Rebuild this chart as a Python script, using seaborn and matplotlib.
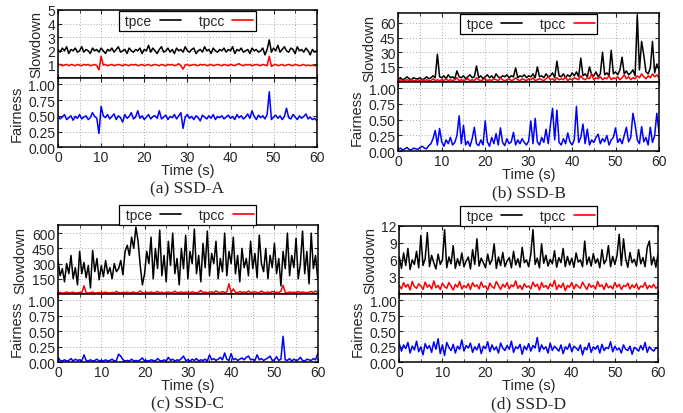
import numpy as np
import pandas as pd
import matplotlib
matplotlib.use("Agg")
import matplotlib.pyplot as plt
import seaborn as sns
from matplotlib.lines import Line2D

sns.set_style("ticks")
plt.rcParams.update({
    'font.family': ['Liberation Sans', 'DejaVu Sans'],
    'font.size': 8,
    'axes.linewidth': 1.1,
})

# sample times (s), one sample every 0.5 s
TIME_S = np.arange(0, 60.5, 0.5)

# ---------------- SSD-A ----------------
A_TPCE = [2.1, 1.9, 2.2, 2.0, 2.3, 1.8, 2.1, 2.0, 2.2, 1.9, 2.0, 2.3, 1.9, 2.1, 2.0, 1.8, 2.2, 2.0, 2.1, 1.9,
          2.2, 2.0, 1.8, 2.1, 2.0, 2.2, 1.9, 2.1, 2.3, 1.9, 2.0, 2.1, 1.8, 2.2, 2.0, 1.9, 2.1, 2.0, 2.2, 1.8,
          2.1, 2.0, 2.4, 1.9, 2.2, 2.0, 1.8, 2.1, 2.3, 1.9, 2.0, 2.2, 1.9, 2.1, 1.8, 2.2, 2.0, 2.1, 1.9, 2.3,
          2.0, 1.9, 2.1, 2.2, 1.8, 2.0, 2.1, 1.9, 2.3, 2.0, 2.1, 1.8, 2.2, 2.0, 1.9, 2.1, 2.0, 2.2, 1.9, 2.1,
          2.0, 2.3, 1.8, 2.1, 2.0, 2.2, 1.9, 2.0, 2.1, 1.8, 2.2, 2.0, 2.1, 1.9, 2.0, 2.2, 1.7, 2.1, 2.8, 1.9,
          2.2, 2.0, 2.4, 1.9, 2.1, 2.3, 2.0, 1.9, 2.2, 2.1, 1.8, 2.3, 2.0, 2.1, 1.9, 2.2, 2.0, 1.7, 2.1, 1.9,
          2.0]
A_TPCC = [0.95, 1.0, 0.9, 0.95, 1.0, 0.9, 1.0, 0.95, 0.9, 1.0, 0.95, 0.9, 1.0, 0.95, 1.0, 0.9, 0.95, 1.0, 0.9, 0.6,
          1.6, 0.95, 1.0, 0.9, 0.95, 1.0, 0.9, 0.95, 1.0, 0.95, 0.9, 1.0, 0.95, 0.9, 1.0, 0.95, 1.0, 0.9, 0.95, 1.0,
          0.9, 0.95, 1.0, 0.9, 0.95, 1.0, 0.95, 0.9, 1.0, 0.95, 0.9, 1.0, 0.95, 1.0, 0.9, 0.95, 1.05, 0.9, 0.65, 0.95,
          1.0, 0.9, 0.95, 1.0, 0.95, 0.9, 1.0, 0.95, 1.0, 0.9, 0.95, 1.0, 0.9, 0.95, 1.0, 0.95, 0.9, 1.0, 0.95, 0.9,
          1.0, 0.95, 0.9, 1.0, 1.05, 0.95, 0.9, 1.0, 0.95, 1.0, 0.9, 0.95, 1.0, 0.95, 0.9, 1.0, 0.95, 0.9, 1.6, 0.85,
          0.95, 1.0, 0.9, 0.95, 1.0, 0.9, 0.95, 1.0, 0.95, 0.9, 1.0, 0.95, 0.9, 0.95, 1.0, 0.9, 0.95, 0.9, 0.95, 0.9,
          0.9]
A_FAIR = [0.50, 0.45, 0.48, 0.52, 0.44, 0.47, 0.50, 0.43, 0.49, 0.46, 0.52, 0.45, 0.48, 0.50, 0.44, 0.47, 0.55, 0.49, 0.46, 0.22,
          0.65, 0.50, 0.47, 0.52, 0.45, 0.49, 0.53, 0.44, 0.50, 0.47, 0.40, 0.52, 0.46, 0.49, 0.55, 0.45, 0.48, 0.58, 0.46, 0.50,
          0.44, 0.48, 0.52, 0.45, 0.49, 0.50, 0.46, 0.58, 0.45, 0.48, 0.51, 0.44, 0.49, 0.47, 0.52, 0.45, 0.50, 0.55, 0.30, 0.48,
          0.52, 0.46, 0.49, 0.44, 0.50, 0.47, 0.42, 0.51, 0.48, 0.45, 0.50, 0.46, 0.52, 0.44, 0.49, 0.47, 0.50, 0.45, 0.48, 0.51,
          0.46, 0.49, 0.44, 0.52, 0.47, 0.50, 0.45, 0.48, 0.53, 0.46, 0.58, 0.49, 0.44, 0.51, 0.47, 0.50, 0.45, 0.52, 0.88, 0.44,
          0.48, 0.51, 0.46, 0.50, 0.44, 0.49, 0.62, 0.47, 0.45, 0.52, 0.48, 0.44, 0.50, 0.46, 0.49, 0.53, 0.45, 0.48, 0.44, 0.46,
          0.42]

# ---------------- SSD-B ----------------
B_TPCE = [3, 4, 2, 3, 5, 3, 2, 4, 3, 3, 4, 2, 3, 5, 3, 4, 6, 4, 28, 5,
          4, 6, 3, 7, 4, 5, 3, 11, 5, 4, 6, 3, 5, 7, 4, 5, 16, 4, 6, 3,
          5, 7, 4, 6, 3, 8, 5, 4, 6, 5, 7, 4, 6, 5, 14, 4, 6, 5, 7, 4,
          6, 5, 8, 4, 15, 5, 6, 4, 8, 5, 6, 9, 4, 21, 6, 5, 8, 4, 7, 5,
          9, 6, 10, 5, 24, 6, 8, 5, 15, 7, 6, 10, 5, 8, 30, 7, 9, 6, 32, 8,
          10, 7, 12, 25, 8, 11, 7, 9, 12, 6, 68, 12, 41, 27, 10, 8, 14, 41, 9, 18,
          12]
B_TPCC = [1, 2, 1, 1, 2, 1, 2, 1, 1, 2, 1, 2, 1, 2, 1, 1, 3, 1, 2, 1,
          2, 1, 3, 1, 2, 1, 2, 4, 1, 2, 1, 2, 3, 1, 2, 1, 4, 2, 1, 2,
          3, 1, 2, 1, 3, 2, 1, 4, 2, 1, 2, 3, 1, 2, 4, 2, 1, 3, 2, 1,
          3, 2, 4, 1, 2, 3, 2, 1, 3, 5, 2, 3, 1, 4, 2, 3, 2, 5, 1, 3,
          2, 4, 3, 2, 6, 3, 2, 4, 3, 8, 2, 4, 3, 5, 2, 4, 3, 6, 2, 4,
          3, 5, 2, 4, 7, 3, 5, 2, 4, 3, 6, 4, 8, 5, 3, 6, 4, 8, 5, 7,
          4]
B_FAIR = [0.03, 0.05, 0.02, 0.04, 0.06, 0.03, 0.02, 0.05, 0.04, 0.03, 0.06, 0.08, 0.05, 0.04, 0.09, 0.12, 0.20, 0.33, 0.10, 0.36,
          0.15, 0.08, 0.18, 0.12, 0.22, 0.10, 0.14, 0.25, 0.56, 0.12, 0.41, 0.10, 0.16, 0.08, 0.20, 0.38, 0.12, 0.09, 0.18, 0.10,
          0.48, 0.15, 0.08, 0.22, 0.12, 0.28, 0.10, 0.37, 0.14, 0.09, 0.20, 0.12, 0.15, 0.30, 0.10, 0.18, 0.12, 0.20, 0.14, 0.10,
          0.16, 0.48, 0.12, 0.52, 0.15, 0.10, 0.22, 0.14, 0.35, 0.12, 0.41, 0.68, 0.18, 0.65, 0.14, 0.10, 0.20, 0.12, 0.29, 0.15,
          0.10, 0.18, 0.71, 0.14, 0.22, 0.43, 0.12, 0.35, 0.10, 0.18, 0.14, 0.22, 0.27, 0.12, 0.20, 0.15, 0.25, 0.10, 0.18, 0.22,
          0.37, 0.14, 0.20, 0.12, 0.25, 0.38, 0.15, 0.22, 0.60, 0.42, 0.18, 0.12, 0.39, 0.15, 0.22, 0.10, 0.38, 0.14, 0.25, 0.60,
          0.30]

# ---------------- SSD-C ----------------
C_TPCE = [330, 180, 250, 120, 300, 200, 380, 150, 260, 90, 420, 200, 310, 160, 280, 60, 430, 220, 350, 140,
          280, 170, 330, 200, 260, 150, 300, 220, 250, 330, 190, 420, 480, 380, 560, 450, 660, 520, 280, 90,
          200, 420, 300, 560, 150, 450, 250, 630, 180, 380, 120, 520, 280, 600, 200, 350, 90, 450, 250, 580,
          150, 420, 300, 640, 200, 380, 120, 500, 260, 620, 180, 400, 300, 520, 150, 350, 220, 600, 180, 420,
          300, 560, 200, 380, 120, 450, 260, 350, 180, 520, 250, 400, 160, 580, 300, 220, 450, 150, 380, 260,
          500, 200, 350, 80, 420, 250, 600, 180, 380, 260, 550, 150, 300, 620, 200, 420, 100, 600, 250, 380,
          150]
C_TPCC = [10, 15, 8, 12, 20, 10, 14, 18, 9, 12, 16, 11, 80, 15, 10, 13, 20, 9, 12, 15,
          10, 14, 18, 12, 9, 16, 11, 25, 13, 10, 15, 12, 18, 10, 14, 20, 11, 15, 30, 12,
          10, 16, 13, 20, 11, 15, 25, 12, 18, 10, 14, 20, 12, 15, 28, 11, 16, 20, 13, 18,
          15, 12, 22, 16, 10, 18, 35, 14, 20, 12, 16, 22, 14, 30, 18, 12, 25, 15, 20, 100,
          14, 50, 18, 12, 25, 16, 20, 14, 30, 12, 18, 22, 15, 12, 30, 16, 14, 20, 12, 25,
          15, 18, 14, 28, 85, 16, 12, 20, 15, 18, 12, 25, 14, 20, 16, 12, 18, 25, 14, 30,
          15]
C_FAIR = [0.08, 0.03, 0.02, 0.04, 0.02, 0.03, 0.06, 0.02, 0.05, 0.03, 0.04, 0.02, 0.12, 0.03, 0.02, 0.04, 0.02, 0.03, 0.05, 0.02,
          0.03, 0.02, 0.04, 0.02, 0.03, 0.05, 0.02, 0.03, 0.13, 0.10, 0.04, 0.02, 0.03, 0.02, 0.05, 0.02, 0.03, 0.02, 0.04, 0.07,
          0.02, 0.03, 0.02, 0.04, 0.03, 0.02, 0.06, 0.03, 0.02, 0.04, 0.02, 0.08, 0.03, 0.05, 0.02, 0.04, 0.03, 0.06, 0.10, 0.03,
          0.04, 0.02, 0.05, 0.03, 0.06, 0.02, 0.04, 0.03, 0.05, 0.02, 0.12, 0.04, 0.06, 0.03, 0.05, 0.08, 0.04, 0.15, 0.05, 0.03,
          0.14, 0.04, 0.06, 0.03, 0.05, 0.07, 0.04, 0.08, 0.10, 0.04, 0.05, 0.03, 0.12, 0.04, 0.06, 0.03, 0.05, 0.07, 0.10, 0.03,
          0.04, 0.09, 0.03, 0.05, 0.42, 0.04, 0.03, 0.06, 0.02, 0.05, 0.03, 0.04, 0.08, 0.03, 0.02, 0.05, 0.04, 0.03, 0.06, 0.04,
          0.14]

# ---------------- SSD-D ----------------
D_TPCE = [6.5, 4.5, 7.2, 5.0, 8.0, 4.3, 6.0, 5.2, 7.5, 4.6, 10.3, 5.0, 6.2, 10.8, 4.8, 6.8, 5.5, 4.4, 7.0, 5.2,
          6.0, 11.3, 4.6, 6.5, 5.3, 8.5, 4.5, 6.2, 5.0, 7.2, 4.8, 5.8, 6.5, 4.4, 7.8, 5.2, 9.7, 4.9, 6.3, 5.5,
          4.6, 7.0, 5.2, 6.0, 8.8, 4.5, 6.5, 5.0, 7.3, 4.8, 5.8, 6.4, 4.6, 7.5, 5.1, 6.2, 4.7, 8.2, 5.5, 6.0,
          4.8, 7.0, 11.3, 5.2, 6.3, 4.6, 8.8, 5.4, 6.8, 4.9, 6.1, 5.3, 7.6, 4.7, 6.4, 5.5, 8.0, 4.8, 6.6, 5.1,
          6.3, 4.7, 7.2, 5.6, 6.0, 4.8, 9.3, 5.2, 6.5, 4.9, 7.1, 5.4, 6.2, 4.6, 7.8, 5.3, 6.0, 8.5, 4.8, 6.6,
          5.2, 6.8, 10.5, 5.0, 9.7, 6.2, 4.7, 7.3, 5.5, 6.1, 4.9, 7.8, 5.3, 6.4, 4.8, 8.2, 9.3, 5.1, 6.5, 4.7,
          7.0]
D_TPCC = [1.5, 0.9, 2.0, 1.2, 1.7, 0.7, 2.2, 1.3, 1.0, 1.8, 1.4, 0.8, 2.1, 1.2, 1.6, 0.9, 2.3, 1.1, 1.5, 0.8,
          1.9, 1.3, 1.0, 2.0, 1.4, 0.7, 1.7, 1.2, 2.2, 0.9, 1.5, 1.1, 1.8, 0.8, 2.0, 1.3, 1.6, 0.9, 2.1, 1.2,
          1.4, 0.7, 1.9, 1.3, 1.0, 2.2, 1.5, 0.8, 1.7, 1.2, 2.0, 0.9, 1.6, 1.3, 2.3, 1.0, 1.5, 0.8, 1.8, 1.2,
          1.4, 0.9, 2.1, 1.3, 1.7, 0.7, 2.0, 1.2, 1.5, 0.9, 1.8, 1.3, 2.4, 0.8, 1.6, 1.1, 1.9, 0.6, 1.5, 1.2,
          2.0, 0.9, 1.7, 1.3, 1.0, 2.1, 1.4, 0.8, 1.8, 1.2, 1.5, 0.9, 2.2, 1.3, 1.6, 0.8, 1.9, 1.1, 1.4, 0.9,
          2.0, 1.2, 1.7, 0.8, 1.5, 1.3, 1.9, 0.9, 1.6, 1.1, 1.8, 0.8, 1.4, 1.2, 2.0, 0.9, 1.5, 1.1, 1.7, 1.0,
          1.3]
D_FAIR = [0.30, 0.18, 0.28, 0.22, 0.32, 0.15, 0.26, 0.20, 0.34, 0.17, 0.25, 0.12, 0.30, 0.22, 0.27, 0.16, 0.33, 0.21, 0.38, 0.14,
          0.28, 0.11, 0.32, 0.24, 0.19, 0.29, 0.15, 0.26, 0.21, 0.36, 0.18, 0.27, 0.23, 0.31, 0.16, 0.25, 0.20, 0.30, 0.14, 0.26,
          0.22, 0.33, 0.17, 0.28, 0.20, 0.25, 0.15, 0.31, 0.23, 0.19, 0.27, 0.21, 0.34, 0.16, 0.25, 0.22, 0.29, 0.13, 0.26, 0.20,
          0.30, 0.18, 0.27, 0.23, 0.40, 0.17, 0.28, 0.21, 0.25, 0.15, 0.31, 0.19, 0.26, 0.22, 0.18, 0.28, 0.14, 0.25, 0.21, 0.30,
          0.17, 0.26, 0.23, 0.19, 0.28, 0.12, 0.24, 0.20, 0.31, 0.16, 0.25, 0.21, 0.27, 0.15, 0.29, 0.19, 0.24, 0.22, 0.33, 0.17,
          0.26, 0.20, 0.23, 0.15, 0.28, 0.21, 0.19, 0.26, 0.13, 0.24, 0.22, 0.18, 0.27, 0.20, 0.32, 0.16, 0.25, 0.21, 0.18, 0.23,
          0.22]

CAPTIONS = ["(a) SSD-A", "(b) SSD-B", "(c) SSD-C", "(d) SSD-D"]
SERIES_NAMES = ["tpce", "tpcc"]
SLOW_TICKS = [[1, 2, 3, 4, 5], [15, 30, 45, 60], [150, 300, 450, 600], [3, 6, 9, 12]]
SLOW_YMAX = [5, 70, 680, 12]
FAIR_TICKS = [0.0, 0.25, 0.5, 0.75, 1.0]
X_TICKS = [0, 10, 20, 30, 40, 50, 60]

panels = [(A_TPCE, A_TPCC, A_FAIR), (B_TPCE, B_TPCC, B_FAIR),
          (C_TPCE, C_TPCC, C_FAIR), (D_TPCE, D_TPCC, D_FAIR)]

# pixel boxes (left, right, slowdown top, split, fairness bottom) in a 683x414 canvas
W, H = 683, 414
boxes = [(58, 316.7, 11, 79, 148.3),
         (398.3, 659, 14, 82.7, 152.3),
         (58, 317.7, 226, 295, 363.3),
         (399.3, 658, 226.7, 295, 363.3)]
legend_inside = [True, True, False, False]

fig = plt.figure(figsize=(6.83, 4.14), dpi=100)


def style_axes(ax):
    ax.set_xlim(0, 60)
    ax.set_xticks(X_TICKS)
    ax.set_xticks([5, 15, 25, 35, 45, 55], minor=True)
    ax.grid(True, which='both', axis='x', color='#aaaaaa', linestyle=(0, (1, 2)), linewidth=0.7)
    ax.grid(True, which='major', axis='y', color='#aaaaaa', linestyle=(0, (1, 2)), linewidth=0.7)
    ax.tick_params(direction='in', length=3, width=0.8, top=True, right=True, pad=2, labelsize=10)
    ax.tick_params(which='minor', direction='in', length=2, top=True)
    for s in ax.spines.values():
        s.set_color('black')
        s.set_linewidth(1.1)


for i, ((tpce, tpcc, fair), (x0, x1, ytop, ymid, ybot)) in enumerate(zip(panels, boxes)):
    ax_s = fig.add_axes([x0 / W, 1 - ymid / H, (x1 - x0) / W, (ymid - ytop) / H])
    ax_f = fig.add_axes([x0 / W, 1 - ybot / H, (x1 - x0) / W, (ybot - ymid) / H])

    df = pd.DataFrame({'t': TIME_S, 'tpce': tpce, 'tpcc': tpcc, 'fair': fair})
    sns.lineplot(data=df, x='t', y='tpce', ax=ax_s, color='black', linewidth=1.1)
    sns.lineplot(data=df, x='t', y='tpcc', ax=ax_s, color='#ff0000', linewidth=1.1)
    sns.lineplot(data=df, x='t', y='fair', ax=ax_f, color='#0000ff', linewidth=1.1)

    style_axes(ax_s)
    style_axes(ax_f)
    ax_s.set_ylim(0, SLOW_YMAX[i])
    ax_s.set_yticks(SLOW_TICKS[i])
    ax_s.tick_params(labelbottom=False)
    ax_s.set_xlabel('')
    ax_s.set_ylabel('Slowdown', fontsize=10.5, labelpad=3)

    ax_f.set_ylim(0, 1.1)
    ax_f.set_yticks(FAIR_TICKS)
    ax_f.set_yticklabels(['0.00', '0.25', '0.50', '0.75', '1.00'])
    ax_f.set_xlabel('Time (s)', fontsize=10.5, labelpad=-1)
    ax_f.set_ylabel('Fairness', fontsize=10.5, labelpad=3)

    handles = [Line2D([], [], color='black', linewidth=1.2),
               Line2D([], [], color='#ff0000', linewidth=1.2)]
    if legend_inside[i]:
        kw = dict(loc='upper center', bbox_to_anchor=(0.5, 0.955))
    else:
        kw = dict(loc='lower center', bbox_to_anchor=(0.5, 1.03))
    # leading space keeps the first label off the frame edge (text sits before the line)
    leg = ax_s.legend(handles, [' ' + n for n in SERIES_NAMES], ncol=2, markerfirst=False, fontsize=10,
                      frameon=True, fancybox=False, framealpha=1, edgecolor='black',
                      handlelength=1.5, handletextpad=0.6, columnspacing=1.0,
                      borderpad=0.05, borderaxespad=0, **kw)
    leg.get_frame().set_linewidth(0.9)
    leg.get_frame().set_boxstyle('square', pad=0.15)

    cx = (x0 + x1) / 2 / W
    fig.text(cx, 1 - (ybot + 41) / H, CAPTIONS[i], ha='center', va='center',
             fontsize=12.5, family=['Liberation Serif', 'DejaVu Serif'])

fig.savefig('out.png', dpi=100)
